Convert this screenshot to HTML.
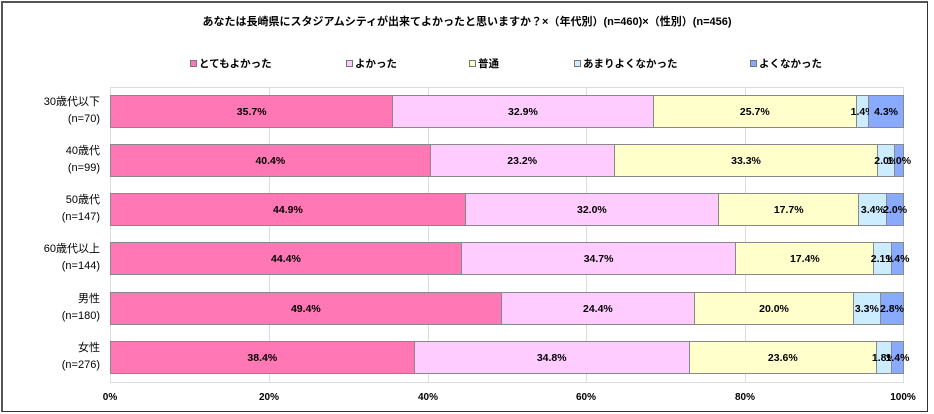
<!DOCTYPE html>
<html><head><meta charset="utf-8"><style>
*{margin:0;padding:0;box-sizing:border-box}
body{width:934px;height:414px;background:#fff;position:relative;overflow:hidden;font-family:"Liberation Sans","Noto Sans CJK JP",sans-serif;color:#000}
.frame{position:absolute;left:1px;top:1px;width:927px;height:411px;border:1px solid #333;border-top:2px solid #555;border-left:2px solid #555}
.title{position:absolute;left:0;width:934px;top:13px;text-align:center;font-size:11px;font-weight:bold}
.leg{position:absolute;top:56px;font-size:10.5px;font-weight:bold;white-space:nowrap}
.leg i{display:inline-block;width:7px;height:7px;border:1px solid #777;margin-right:2px;vertical-align:0}
.grid{position:absolute;top:87px;height:296px;width:1px;background:#ddd}
.row{position:absolute;left:110px;width:794px;height:33px;display:flex}
.row div{height:33px;border:1px solid #888;border-left:none;display:flex;align-items:center;justify-content:center;white-space:nowrap;overflow:visible;font-size:10.5px;font-weight:bold;min-width:0}
.row div:first-child{border-left:1px solid #888}
.c1{background:#FF77B4}.c2{background:#FFCCFF}.c3{background:#FFFFCC}.c4{background:#CCECFF}.c5{background:#88AAFF}
.cat{position:absolute;left:0;width:100px;text-align:right;font-size:11px;line-height:17px}
.tick{position:absolute;top:392px;font-size:10px;font-weight:bold;transform:translateX(-50%)}
</style></head><body>
<div class="frame"></div>
<div class="title">あなたは長崎県にスタジアムシティが出来てよかったと思いますか？×（年代別）(n=460)×（性別）(n=456)</div>
<div class="leg" style="left:190px"><i class="c1"></i>とてもよかった</div>
<div class="leg" style="left:346px"><i class="c2"></i>よかった</div>
<div class="leg" style="left:469px"><i class="c3"></i>普通</div>
<div class="leg" style="left:574px"><i class="c4"></i>あまりよくなかった</div>
<div class="leg" style="left:750px"><i class="c5"></i>よくなかった</div>

<div class="grid" style="left:110px"></div>
<div class="grid" style="left:269px"></div>
<div class="grid" style="left:428px"></div>
<div class="grid" style="left:586px"></div>
<div class="grid" style="left:745px"></div>
<div class="grid" style="left:903px"></div>
<div style="position:absolute;left:110px;top:382px;width:794px;height:1px;background:#ddd"></div>
<div style="position:absolute;left:110px;top:87px;width:794px;height:1px;background:#ddd"></div>

<div class="cat" style="top:94px">30歳代以下<br>(n=70)</div>
<div class="row" style="top:95px"><div class="c1" style="flex:35.7">35.7%</div><div class="c2" style="flex:32.9">32.9%</div><div class="c3" style="flex:25.7">25.7%</div><div class="c4" style="flex:1.4">1.4%</div><div class="c5" style="flex:4.3">4.3%</div></div>
<div class="cat" style="top:143px">40歳代<br>(n=99)</div>
<div class="row" style="top:144px"><div class="c1" style="flex:40.4">40.4%</div><div class="c2" style="flex:23.2">23.2%</div><div class="c3" style="flex:33.3">33.3%</div><div class="c4" style="flex:2.0">2.0%</div><div class="c5" style="flex:1.0">1.0%</div></div>
<div class="cat" style="top:192px">50歳代<br>(n=147)</div>
<div class="row" style="top:193px"><div class="c1" style="flex:44.9">44.9%</div><div class="c2" style="flex:32.0">32.0%</div><div class="c3" style="flex:17.7">17.7%</div><div class="c4" style="flex:3.4">3.4%</div><div class="c5" style="flex:2.0">2.0%</div></div>
<div class="cat" style="top:241px">60歳代以上<br>(n=144)</div>
<div class="row" style="top:242px"><div class="c1" style="flex:44.4">44.4%</div><div class="c2" style="flex:34.7">34.7%</div><div class="c3" style="flex:17.4">17.4%</div><div class="c4" style="flex:2.1">2.1%</div><div class="c5" style="flex:1.4">1.4%</div></div>
<div class="cat" style="top:291px">男性<br>(n=180)</div>
<div class="row" style="top:292px"><div class="c1" style="flex:49.4">49.4%</div><div class="c2" style="flex:24.4">24.4%</div><div class="c3" style="flex:20.0">20.0%</div><div class="c4" style="flex:3.3">3.3%</div><div class="c5" style="flex:2.8">2.8%</div></div>
<div class="cat" style="top:340px">女性<br>(n=276)</div>
<div class="row" style="top:341px"><div class="c1" style="flex:38.4">38.4%</div><div class="c2" style="flex:34.8">34.8%</div><div class="c3" style="flex:23.6">23.6%</div><div class="c4" style="flex:1.8">1.8%</div><div class="c5" style="flex:1.4">1.4%</div></div>

<div class="tick" style="left:110px">0%</div>
<div class="tick" style="left:269px">20%</div>
<div class="tick" style="left:428px">40%</div>
<div class="tick" style="left:586px">60%</div>
<div class="tick" style="left:745px">80%</div>
<div class="tick" style="left:903px">100%</div>
</body></html>
